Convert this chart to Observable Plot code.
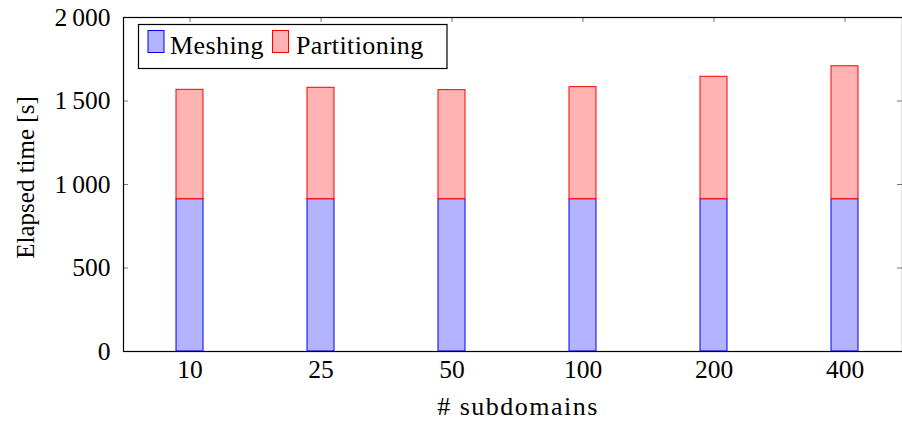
<!DOCTYPE html>
<html><head><meta charset="utf-8">
<script src="https://cdn.jsdelivr.net/npm/d3@7"></script>
<script src="https://cdn.jsdelivr.net/npm/@observablehq/plot@0.6"></script>
<style>
body{margin:0;background:#fff;}
#wrap{position:relative;width:902px;height:422px;}
#legend{position:absolute;left:0;top:0;}
</style></head><body><div id="wrap"></div>
<script>
const categories = ["10","25","50","100","200","400"];
const meshing = [912,912,912,912,912,912];
const partitioning = [655,667,653,671,733,796];
const seriesNames = ["Meshing","Partitioning"];
const seriesFill = ["#b3b3ff","#ffb3b3"];
const seriesStroke = ["#0000ff","#ff0000"];
const yTicks = [0,500,1000,1500,2000];
const xLabel = "# subdomains";
const yLabel = "Elapsed time [s]";

const rows = [];
categories.forEach((c,i) => {
  rows.push({cat:c, series:seriesNames[0], value:meshing[i]});
  rows.push({cat:c, series:seriesNames[1], value:partitioning[i]});
});
const fillOf = s => seriesFill[seriesNames.indexOf(s)];
const strokeOf = s => seriesStroke[seriesNames.indexOf(s)];
const fmt = d => d3.format(",")(d).replace(",", "\u2009");

const W = 902, H = 422, mL = 123, mR = 0, mT = 17, mB = 71;
const pw = W - mL - mR, ph = H - mT - mB;
const font = "Liberation Serif";
const fs = 25.5;

const chart = Plot.plot({
  width: W, height: H,
  marginLeft: mL, marginRight: mR, marginTop: mT, marginBottom: mB,
  style: {fontFamily: font, fontSize: fs + "px", background: "#fff", color: "#000"},
  x: {type: "band", domain: categories, paddingInner: 0.794, paddingOuter: 0.368, align: 0.544},
  y: {domain: [0, 2000]},
  color: {type: "identity"},
  marks: [
    Plot.ruleY(yTicks, {y: d => d, insetRight: pw - 5, stroke: "#777", strokeWidth: 1}),
    Plot.ruleY(yTicks, {y: d => d, insetLeft: pw - 5, stroke: "#777", strokeWidth: 1}),
    Plot.ruleX(categories, {x: d => d, insetTop: ph - 5, stroke: "#777", strokeWidth: 1}),
    Plot.ruleX(categories, {x: d => d, insetBottom: ph - 5, stroke: "#777", strokeWidth: 1}),
    Plot.barY(rows, {x: "cat", y: "value", fill: d => fillOf(d.series), stroke: d => strokeOf(d.series), strokeWidth: 1}),
    Plot.frame({stroke: "#000", strokeWidth: 1.2}),
    Plot.axisY({ticks: yTicks, tickSize: 0, tickPadding: 13, tickFormat: fmt, label: null, fontFamily: font, fontSize: fs}),
    Plot.axisX({tickSize: 0, tickPadding: 8, label: null, fontFamily: font, fontSize: fs}),
    Plot.text([yLabel], {text: d => d, frameAnchor: "left", textAnchor: "middle", lineAnchor: "middle",
      dx: -98, dy: -7, rotate: -90, fontFamily: font, fontSize: 25}),
    Plot.text([xLabel], {text: d => d, frameAnchor: "bottom", textAnchor: "middle", lineAnchor: "middle",
      dx: 5, dy: 55, fontFamily: font, fontSize: 26, letterSpacing: "1.5px"})
  ]
});
const wrap = document.getElementById("wrap");
wrap.appendChild(chart);
d3.select(chart).selectAll("text").filter(function(){ return this.textContent === xLabel; }).style("letter-spacing", "1.5px");

// legend overlay
const lg = d3.select(wrap).append("svg").attr("id","legend").attr("width", W).attr("height", 80);
lg.append("rect").attr("x", 138.5).attr("y", 24.5).attr("width", 308.5).attr("height", 44)
  .attr("fill", "#fff").attr("stroke", "#000").attr("stroke-width", 1.2);
const items = [{x: 148, tx: 170}, {x: 272.5, tx: 296}];
seriesNames.forEach((s, i) => {
  lg.append("rect").attr("x", items[i].x).attr("y", 30.5).attr("width", 16).attr("height", 22)
    .attr("fill", seriesFill[i]).attr("stroke", seriesStroke[i]).attr("stroke-width", 1);
  lg.append("text").attr("x", items[i].tx).attr("y", 54).attr("font-family", font).attr("font-size", 26)
    .style("letter-spacing", "0.4px").text(s);
});
</script></body></html>
